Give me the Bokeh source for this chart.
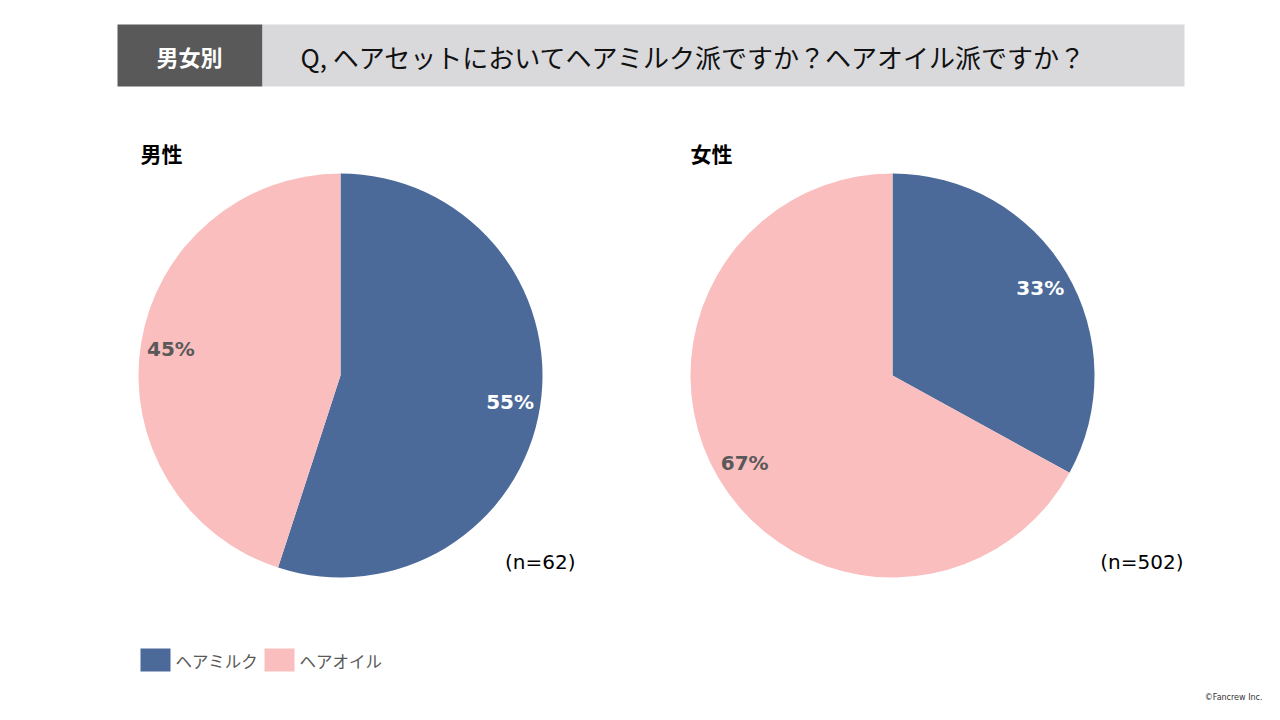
import numpy as np
from bokeh.plotting import figure
from bokeh.models import Range1d, ColumnDataSource
from bokeh.core.properties import value
from bokeh.embed import file_html
from bokeh.resources import INLINE

# ---- data ----
categories = ["ヘアミルク", "ヘアオイル"]
male_pct = [55, 45]
female_pct = [33, 67]
groups = ["男性", "女性"]
n_counts = [62, 502]
title_tag = "男女別"
title_text = "Q, ヘアセットにおいてヘアミルク派ですか？ヘアオイル派ですか？"
credit = "©Fancrew Inc."

colors = ["#4b6a99", "#fabebe"]
label_colors = ["#ffffff", "#595959"]
FONT = "Noto Sans CJK JP"
LATIN = "DejaVu Sans"

W, H = 1280, 720
p = figure(width=W, height=H, x_range=Range1d(0, W), y_range=Range1d(0, H),
           output_backend="svg", toolbar_location=None, min_border=0)
p.axis.visible = False
p.grid.visible = False
p.outline_line_color = None
p.background_fill_color = "white"
p.border_fill_color = "white"

def Y(ypx):
    return H - ypx

# header boxes
p.quad(left=[117], right=[262], top=[Y(24)], bottom=[Y(86)], fill_color="#595959", line_color=None)
p.quad(left=[262], right=[1184], top=[Y(24)], bottom=[Y(86)], fill_color="#d9d9dc", line_color=None)
p.text(x=[189], y=[Y(55)], text=[title_tag], text_color="white", text_font=value(FONT),
       text_font_style="bold", text_font_size="22px", text_align="center", text_baseline="middle")
p.text(x=[300], y=[Y(56)], text=[title_text], text_color="#111111", text_font=value(FONT),
       text_font_size="26px", text_align="left", text_baseline="middle")

# pies
centers = [(340, 375), (892, 375)]
radius = 202
group_vals = [male_pct, female_pct]
group_title_x = [140, 690]
n_pos = [(575, 561), (1183, 561)]
label_r = 0.85

for gi, vals in enumerate(group_vals):
    cx, cy = centers[gi]
    v = np.array(vals, dtype=float)
    frac = v / v.sum()
    cum = np.concatenate([[0], np.cumsum(frac)])
    starts = np.pi / 2 - cum[:-1] * 2 * np.pi
    ends = np.pi / 2 - cum[1:] * 2 * np.pi
    src = ColumnDataSource(dict(start=starts, end=ends, color=colors))
    p.wedge(x=cx, y=Y(cy), radius=radius, start_angle="start", end_angle="end",
            direction="clock", fill_color="color", line_color=None, source=src)
    mids = (starts + ends) / 2
    lr = radius * label_r
    lx = cx + lr * np.cos(mids)
    ly = Y(cy) + lr * np.sin(mids)
    p.text(x=lx, y=ly, text=[f"{int(x)}%" for x in vals], text_color=label_colors,
           text_font=value(LATIN), text_font_style="bold", text_font_size="20px",
           text_align="center", text_baseline="middle")
    p.text(x=[group_title_x[gi]], y=[Y(152)], text=[groups[gi]], text_color="black",
           text_font=value(FONT), text_font_style="bold", text_font_size="21px",
           text_align="left", text_baseline="middle")
    p.text(x=[n_pos[gi][0]], y=[Y(n_pos[gi][1])], text=[f"(n={n_counts[gi]})"], text_color="black",
           text_font=value(LATIN), text_font_size="20px", text_align="right", text_baseline="middle")

# legend
leg_x = [140, 264]
for i, c in enumerate(categories):
    p.quad(left=[leg_x[i]], right=[leg_x[i] + 30], top=[Y(648)], bottom=[Y(671)],
           fill_color=colors[i], line_color=None)
    p.text(x=[leg_x[i] + 35], y=[Y(660)], text=[c], text_color="#595959",
           text_font=value(FONT), text_font_size="16.5px", text_align="left", text_baseline="middle")

p.text(x=[1262], y=[Y(697)], text=[credit], text_color="#333333", text_font=value(LATIN),
       text_font_size="8px", text_align="right", text_baseline="middle")

open("out.html", "w").write(file_html(p, INLINE))
